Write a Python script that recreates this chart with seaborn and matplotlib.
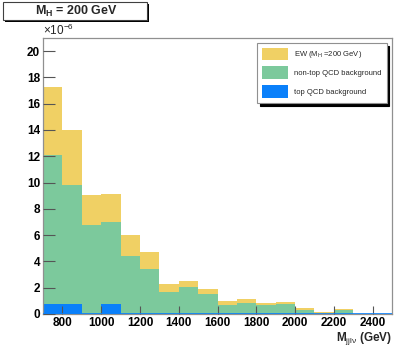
import numpy as np
import pandas as pd
import matplotlib
matplotlib.use("Agg")
import matplotlib.pyplot as plt
from matplotlib.patches import Patch, Rectangle
from matplotlib.ticker import MultipleLocator
import seaborn as sns

# bins of M_jjlnu (GeV), 100 GeV wide
bin_edges = list(range(700, 2600, 100))

# stacked contributions per bin (x 1e-6)
top_qcd = [0.74, 0.74, 0, 0.74, 0, 0, 0, 0, 0, 0, 0, 0, 0, 0, 0, 0, 0, 0]
nontop_qcd = [11.36, 9.06, 6.8, 6.26, 4.45, 3.4, 1.7, 2.05, 1.52, 0.66, 0.86,
              0.71, 0.76, 0.3, 0.03, 0.28, 0, 0]
ew = [5.2, 4.2, 2.25, 2.1, 1.55, 1.3, 0.6, 0.45, 0.41, 0.33, 0.31, 0.13,
      0.15, 0.16, 0.09, 0.07, 0, 0]

labels = {
    "ew": "EW (M$_{\\rm H}$ =200 GeV)",
    "nontop": "non-top QCD background",
    "top": "top QCD background",
}
colors = {"ew": "#f0d064", "nontop": "#7cc99c", "top": "#0a80fa"}

centers = [(a + b) / 2 for a, b in zip(bin_edges[:-1], bin_edges[1:])]
rows = []
for key, vals in [("ew", ew), ("nontop", nontop_qcd), ("top", top_qcd)]:
    for c, v in zip(centers, vals):
        rows.append({"mass": c, "weight": v, "process": key})
df = pd.DataFrame(rows)

sns.set_style("white")
plt.rcParams["font.family"] = ["Liberation Sans", "DejaVu Sans"]
plt.rcParams["mathtext.fontset"] = "custom"
plt.rcParams["mathtext.rm"] = "Liberation Sans"
plt.rcParams["mathtext.bf"] = "Liberation Sans:bold"
plt.rcParams["mathtext.it"] = "Liberation Sans:italic"

fig = plt.figure(figsize=(4.07, 3.49), dpi=100)
ax = fig.add_axes([43 / 407, 35 / 349, 349 / 407, 276 / 349])

sns.histplot(data=df, x="mass", weights="weight", hue="process",
             hue_order=["ew", "nontop", "top"], palette=colors,
             multiple="stack", bins=bin_edges, linewidth=0, alpha=1,
             legend=False, ax=ax)
ax.axhline(0, color=colors["top"], lw=1.2, zorder=5)

ax.set_xlim(700, 2500)
ax.set_ylim(0, 21)
ax.set_xlabel("")
ax.set_ylabel("")
ax.xaxis.set_major_locator(MultipleLocator(200))
ax.xaxis.set_minor_locator(MultipleLocator(50))
ax.yaxis.set_major_locator(MultipleLocator(2))
ax.yaxis.set_minor_locator(MultipleLocator(0.5))
ax.set_xticks(range(800, 2500, 200))
ax.tick_params(axis="both", which="both", direction="in", colors="#555555",
               labelcolor="black", labelsize=8.5, width=0.8)
ax.tick_params(axis="y", which="major", length=8.5, pad=2)
ax.tick_params(axis="y", which="minor", length=4.2)
ax.tick_params(axis="x", which="major", length=5.5, pad=2.5)
ax.tick_params(axis="x", which="minor", length=2.8)
ax.tick_params(left=True, bottom=True, top=False, right=False)
for lab in ax.get_xticklabels() + ax.get_yticklabels():
    lab.set_fontweight("bold")
for sp in ax.spines.values():
    sp.set_color("#909090")
    sp.set_linewidth(0.9)
ax.set_axisbelow(False)
for t in ax.xaxis.get_ticklines(minor=True) + ax.yaxis.get_ticklines(minor=True):
    t.set_zorder(6)

fig.text(43 / 407, 1 - 30 / 349, "$\\times$10$^{-6}$", fontsize=8.5,
         ha="left", va="center")
fig.text(392 / 407, 1 - 341 / 349, "$\\mathbf{M}_{\\rm jjl\\nu}$ (GeV)",
         fontsize=8.5, fontweight="bold", ha="right", va="baseline")

# title box with shadow
fig.patches.append(Rectangle((5 / 407, 1 - 22 / 349), 144 / 407, 18 / 349,
                             transform=fig.transFigure, facecolor="black",
                             edgecolor="none"))
fig.patches.append(Rectangle((3 / 407, 1 - 20 / 349), 144 / 407, 18 / 349,
                             transform=fig.transFigure, facecolor="white",
                             edgecolor="#404040", lw=0.8))
fig.text(76 / 407, 1 - 11 / 349, "$\\mathbf{M_H}$ = 200 GeV", fontsize=9,
         fontweight="bold", ha="center", va="center")

handles = [Patch(facecolor=colors[k], edgecolor="none", label=labels[k])
           for k in ["ew", "nontop", "top"]]
leg = ax.legend(handles=handles, loc="upper left",
                bbox_to_anchor=(257 / 407, 1 - 43 / 349),
                bbox_transform=fig.transFigure, fontsize=5.5, frameon=True,
                fancybox=False, shadow={"color": "black", "alpha": 1},
                edgecolor="#909090", handlelength=3.5, handleheight=2.2,
                labelspacing=0.8, borderpad=0.6, handletextpad=0.8,
                borderaxespad=0)
leg.get_frame().set_linewidth(0.8)

fig.savefig("out.png", dpi=100)
